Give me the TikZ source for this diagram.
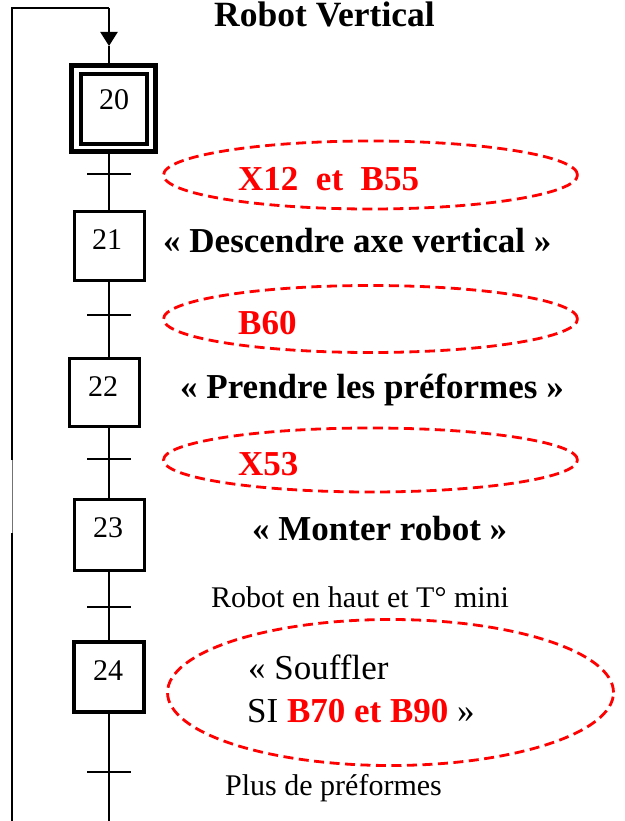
\documentclass[tikz,border=0pt]{standalone}
\usepackage{fontspec}
\setmainfont{Liberation Serif}
\usetikzlibrary{shapes.geometric,arrows.meta}
\definecolor{gred}{RGB}{255,0,0}
\tikzset{
  stepbox/.style={draw, line width=3.5pt, inner sep=0pt, fill=white},
  wire/.style={line width=2.2pt},
  thinwire/.style={line width=1pt, draw=black!55},
  bar/.style={line width=2.2pt},
  recept/.style={ellipse, draw=gred, dashed, line width=2.8pt, dash pattern=on 10pt off 5.5pt, inner sep=0pt},
  num/.style={font=\fontsize{30}{34}\selectfont, inner sep=0pt, anchor=base},
  titlef/.style={font=\fontsize{35.5}{40}\selectfont\bfseries, inner sep=0pt, anchor=base west},
  actf/.style={font=\fontsize{35}{40}\selectfont\bfseries, inner sep=0pt, anchor=base west},
  redf/.style={font=\fontsize{35}{40}\selectfont\bfseries, text=gred, inner sep=0pt, anchor=base west},
  regf/.style={font=\fontsize{35}{40}\selectfont, inner sep=0pt, anchor=base west},
  smallf/.style={font=\fontsize{30}{34}\selectfont, inner sep=0pt, anchor=base west},
}
\begin{document}
\begin{tikzpicture}[x=1pt,y=-1pt]
\useasboundingbox (0,0) rectangle (624,821);

% coordinates of the main line
\coordinate (topL) at (12,8);
\coordinate (gapA) at (12,460);
\coordinate (gapB) at (12,533);
\coordinate (botL) at (12,821);
\coordinate (topR) at (109,8);
\coordinate (ah) at (109,46);
\coordinate (t1) at (109,174);
\coordinate (t2) at (109,315);
\coordinate (t3) at (109,459);
\coordinate (t4) at (109,607);
\coordinate (t5) at (109,772);
\coordinate (bot) at (109,821);

% steps
\node[stepbox, line width=5pt, minimum width=84pt, minimum height=86pt] (s20o) at (113.5,108.5) {};
\node[stepbox, line width=4pt, minimum width=65.5pt, minimum height=70pt] (s20) at (113.75,109.5) {};
\node[stepbox, minimum width=70pt, minimum height=69pt] (s21) at (109.5,246) {};
\node[stepbox, minimum width=70pt, minimum height=68pt] (s22) at (104.5,392.5) {};
\node[stepbox, minimum width=70pt, minimum height=71pt] (s23) at (109.5,535) {};
\node[stepbox, minimum width=70pt, minimum height=70pt] (s24) at (109,677) {};

\node[num] (n20) at (114,110) {20};
\node[num] (n21) at (107,249) {21};
\node[num] (n22) at (103,396) {22};
\node[num] (n23) at (108,537) {23};
\node[num] (n24) at (108,680) {24};

% connectors
\draw[wire] (botL) -- (gapB);
\draw[thinwire] (gapB) -- (gapA);
\draw[wire] (gapA) -- (topL) -- (topR);
\draw[wire, -{Triangle[length=14pt,width=17pt]}] (topR) -- (ah);
\draw[wire] (ah) -- (s20o.north -| ah);
\draw[wire] (s20o.south -| t1) -- (s21.north -| t1);
\draw[wire] (s21.south -| t2) -- (s22.north -| t2);
\draw[wire] (s22.south -| t3) -- (s23.north -| t3);
\draw[wire] (s23.south -| t4) -- (s24.north -| t4);
\draw[wire] (s24.south -| t5) -- (bot);

% transition bars
\foreach \t in {t1,t2,t3,t4,t5}{
  \draw[bar] ([xshift=-22pt]\t) -- ([xshift=22pt]\t);
}

% receptivity ellipses
\node[recept, minimum width=414pt, minimum height=68pt] (e1) at (370.5,175) {};
\node[recept, minimum width=414pt, minimum height=67pt] (e2) at (370.5,319) {};
\node[recept, minimum width=414pt, minimum height=64pt] (e3) at (370.5,460) {};
\node[recept, minimum width=446pt, minimum height=146pt] (e4) at (390.5,692.5) {};

% texts
\node[titlef] (title) at (214,27) {Robot Vertical};
\node[redf] (c1) at (238,190) {X12\ \ et\ \ B55};
\node[actf] (a21) at (163,252) {« Descendre axe vertical »};
\node[redf] (c2) at (238,334) {B60};
\node[actf] (a22) at (180,398) {« Prendre les préformes »};
\node[redf] (c3) at (238,475) {X53};
\node[actf] (a23) at (252,540) {« Monter robot »};
\node[smallf] (c4) at (211,607) {Robot en haut et T° mini};
\node[regf] (a24a) at (248,679) {« Souffler};
\node[regf] (a24b) at (247,722) {SI \textcolor{gred}{\bfseries B70 et B90} »};
\node[smallf] (c5) at (225,795) {Plus de préformes};
\end{tikzpicture}
\end{document}
